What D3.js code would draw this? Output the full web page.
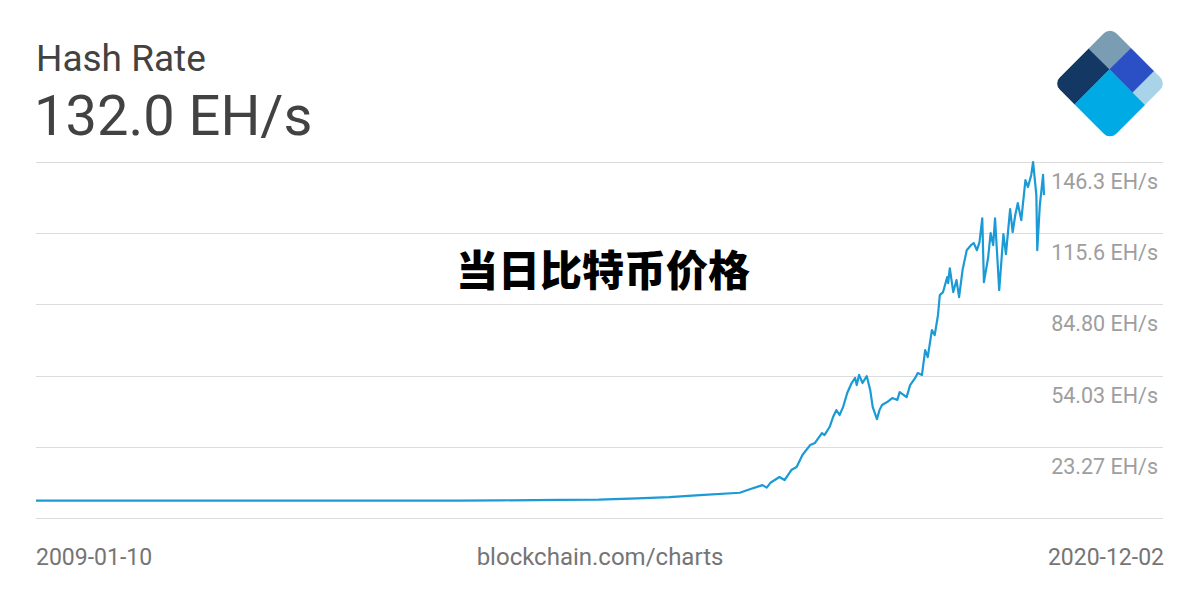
<!DOCTYPE html>
<html>
<head>
<meta charset="utf-8">
<script src="https://cdn.jsdelivr.net/npm/d3@7"></script>
<style>
  html, body { margin: 0; padding: 0; background: #ffffff; }
  svg { display: block; }
</style>
</head>
<body>
<svg id="chart" width="1200" height="600"></svg>
<script>
// ---- data ----
const dates = [
  "2009-01-10","2010-07-01","2011-06-01","2012-06-01","2013-06-01","2014-01-01","2014-07-01",
  "2015-03-17","2015-09-01","2016-02-14","2016-07-01","2016-11-10","2017-05-01","2017-06-13",
  "2017-08-07","2017-08-25","2017-09-10","2017-10-19","2017-11-10","2017-12-09","2018-01-01",
  "2018-01-26","2018-02-28","2018-03-21","2018-04-20","2018-05-01","2018-05-23","2018-06-07",
  "2018-06-21","2018-07-05","2018-07-20","2018-08-07","2018-08-26","2018-09-10","2018-09-17",
  "2018-09-27","2018-10-12","2018-10-30","2018-11-14","2018-11-25","2018-12-13","2018-12-24",
  "2019-01-04","2019-01-26","2019-02-17","2019-03-11","2019-03-21","2019-04-20","2019-05-05",
  "2019-05-27","2019-06-07","2019-06-25","2019-07-09","2019-07-20","2019-08-07","2019-08-19",
  "2019-09-02","2019-09-10","2019-09-24","2019-10-12","2019-10-16","2019-10-23","2019-11-07",
  "2019-11-21","2019-12-02","2019-12-17","2020-01-04","2020-01-23","2020-02-03","2020-02-17",
  "2020-02-28","2020-03-11","2020-03-18","2020-04-05","2020-04-16","2020-04-27","2020-05-05",
  "2020-05-23","2020-06-10","2020-06-21","2020-07-09","2020-07-20","2020-07-31","2020-08-11",
  "2020-08-26","2020-09-13","2020-09-24","2020-10-08","2020-10-16","2020-10-30","2020-11-03",
  "2020-11-14","2020-11-28","2020-12-02"
];
const hashRate = [
  0.0000, 0.0000, 0.0000, 0.0000, 0.0002, 0.01, 0.12,
  0.30, 0.45, 1.0, 1.5, 2.4, 3.4, 4.9,
  6.7, 5.6, 7.7, 10.2, 8.9, 13.2, 14.5,
  19.7, 24.0, 24.9, 29.2, 28.3, 31.8, 36.1,
  39.1, 37.0, 40.4, 46.5, 50.8, 53.0, 49.9,
  54.3, 50.8, 53.8, 47.8, 40.4, 35.2, 39.1,
  41.3, 42.6, 44.3, 43.5, 46.9, 44.7, 49.9,
  53.0, 55.1, 54.3, 65.0, 62.0, 73.7, 71.5,
  80.1, 88.8, 90.1, 96.6, 94.0, 100.4, 90.1,
  95.3, 87.9, 99.6, 108.2, 110.4, 111.3, 108.2,
  111.7, 122.0, 94.4, 104.8, 115.6, 110.4, 122.0,
  90.9, 115.1, 106.5, 125.9, 116.0, 123.3, 128.5,
  121.2, 138.5, 135.5, 140.7, 146.3, 132.0, 108.2,
  127.6, 140.7, 132.0
];
const gridValues = [146.3, 115.6, 84.80, 54.03, 23.27, -7.51];
const tickLabels = ["146.3 EH/s", "115.6 EH/s", "84.80 EH/s", "54.03 EH/s", "23.27 EH/s"];
const titleText = "Hash Rate";
const currentValue = "132.0 EH/s";
const startLabel = "2009-01-10";
const endLabel = "2020-12-02";
const sourceLabel = "blockchain.com/charts";
const overlayText = "当日比特币价格";

// ---- drawing ----
const svg = d3.select("#chart");
const parse = d3.timeParse("%Y-%m-%d");
const data = dates.map((d, i) => ({ date: parse(d), value: hashRate[i] }));

const x = d3.scaleTime()
  .domain([parse(dates[0]), parse(dates[dates.length - 1])])
  .range([36, 1044]);
const y = d3.scaleLinear()
  .domain([d3.min(gridValues), d3.max(gridValues)])
  .range([518, 162]);

const font = "Roboto, 'Noto Sans', sans-serif";

// grid lines
svg.append("g").selectAll("line")
  .data(gridValues).join("line")
  .attr("x1", 36).attr("x2", 1163)
  .attr("y1", d => Math.round(y(d)) + 0.5)
  .attr("y2", d => Math.round(y(d)) + 0.5)
  .attr("stroke", "#dcdcdc").attr("stroke-width", 1);

// right axis labels
svg.append("g").selectAll("text")
  .data(tickLabels).join("text")
  .attr("x", 1158)
  .attr("y", (d, i) => y(gridValues[i]) + 19.5)
  .attr("text-anchor", "end")
  .attr("dominant-baseline", "central")
  .attr("font-family", font)
  .attr("font-size", 21.5)
  .attr("fill", "#9e9e9e")
  .text(d => d);

// line
const line = d3.line()
  .x(d => x(d.date))
  .y(d => y(d.value));
svg.append("path")
  .datum(data)
  .attr("d", line)
  .attr("fill", "none")
  .attr("stroke", "#1b9ad6")
  .attr("stroke-width", 2.2)
  .attr("stroke-linejoin", "round");

// titles
svg.append("text")
  .attr("x", 36).attr("y", 71)
  .attr("font-family", font).attr("font-size", 37)
  .attr("fill", "#424242")
  .text(titleText);
svg.append("text")
  .attr("x", 34).attr("y", 135)
  .attr("font-family", font).attr("font-size", 56)
  .attr("fill", "#424242")
  .text(currentValue);

// bottom labels
svg.append("text")
  .attr("x", 36).attr("y", 565)
  .attr("font-family", font).attr("font-size", 23)
  .attr("fill", "#757575")
  .text(startLabel);
svg.append("text")
  .attr("x", 600).attr("y", 565)
  .attr("text-anchor", "middle")
  .attr("font-family", font).attr("font-size", 24)
  .attr("fill", "#757575")
  .text(sourceLabel);
svg.append("text")
  .attr("x", 1164).attr("y", 565)
  .attr("text-anchor", "end")
  .attr("font-family", font).attr("font-size", 23)
  .attr("fill", "#757575")
  .text(endLabel);

// overlay chinese text
svg.append("text")
  .attr("x", 603).attr("y", 267)
  .attr("text-anchor", "middle")
  .attr("dominant-baseline", "central")
  .attr("font-family", "'Noto Sans CJK SC', sans-serif")
  .attr("font-weight", 900)
  .attr("font-size", 42)
  .attr("fill", "#000000")
  .text(overlayText);

// logo (rotated rounded square split into blocks)
const s = 80;
const logo = svg.append("g")
  .attr("transform", `translate(${1110 - s * Math.SQRT1_2},83.5) rotate(-45)`);
const defs = svg.append("defs");
defs.append("clipPath").attr("id", "logoClip")
  .append("rect").attr("x", 0).attr("y", 0).attr("width", s).attr("height", s)
  .attr("rx", 9).attr("ry", 9);
const blocks = [
  { p0: 0, p1: 0.62, q0: 0, q1: 0.37, c: "#133863" },
  { p0: 0.62, p1: 1, q0: 0, q1: 0.37, c: "#7b9db3" },
  { p0: 0, p1: 0.62, q0: 0.37, q1: 1, c: "#00abe5" },
  { p0: 0.62, p1: 1, q0: 0.37, q1: 0.78, c: "#2b50c6" },
  { p0: 0.62, p1: 1, q0: 0.78, q1: 1, c: "#a9d3e9" }
];
logo.append("g").attr("clip-path", "url(#logoClip)")
  .selectAll("rect").data(blocks).join("rect")
  .attr("x", d => d.p0 * s).attr("y", d => d.q0 * s)
  .attr("width", d => (d.p1 - d.p0) * s + 0.3)
  .attr("height", d => (d.q1 - d.q0) * s + 0.3)
  .attr("fill", d => d.c);
</script>
</body>
</html>
